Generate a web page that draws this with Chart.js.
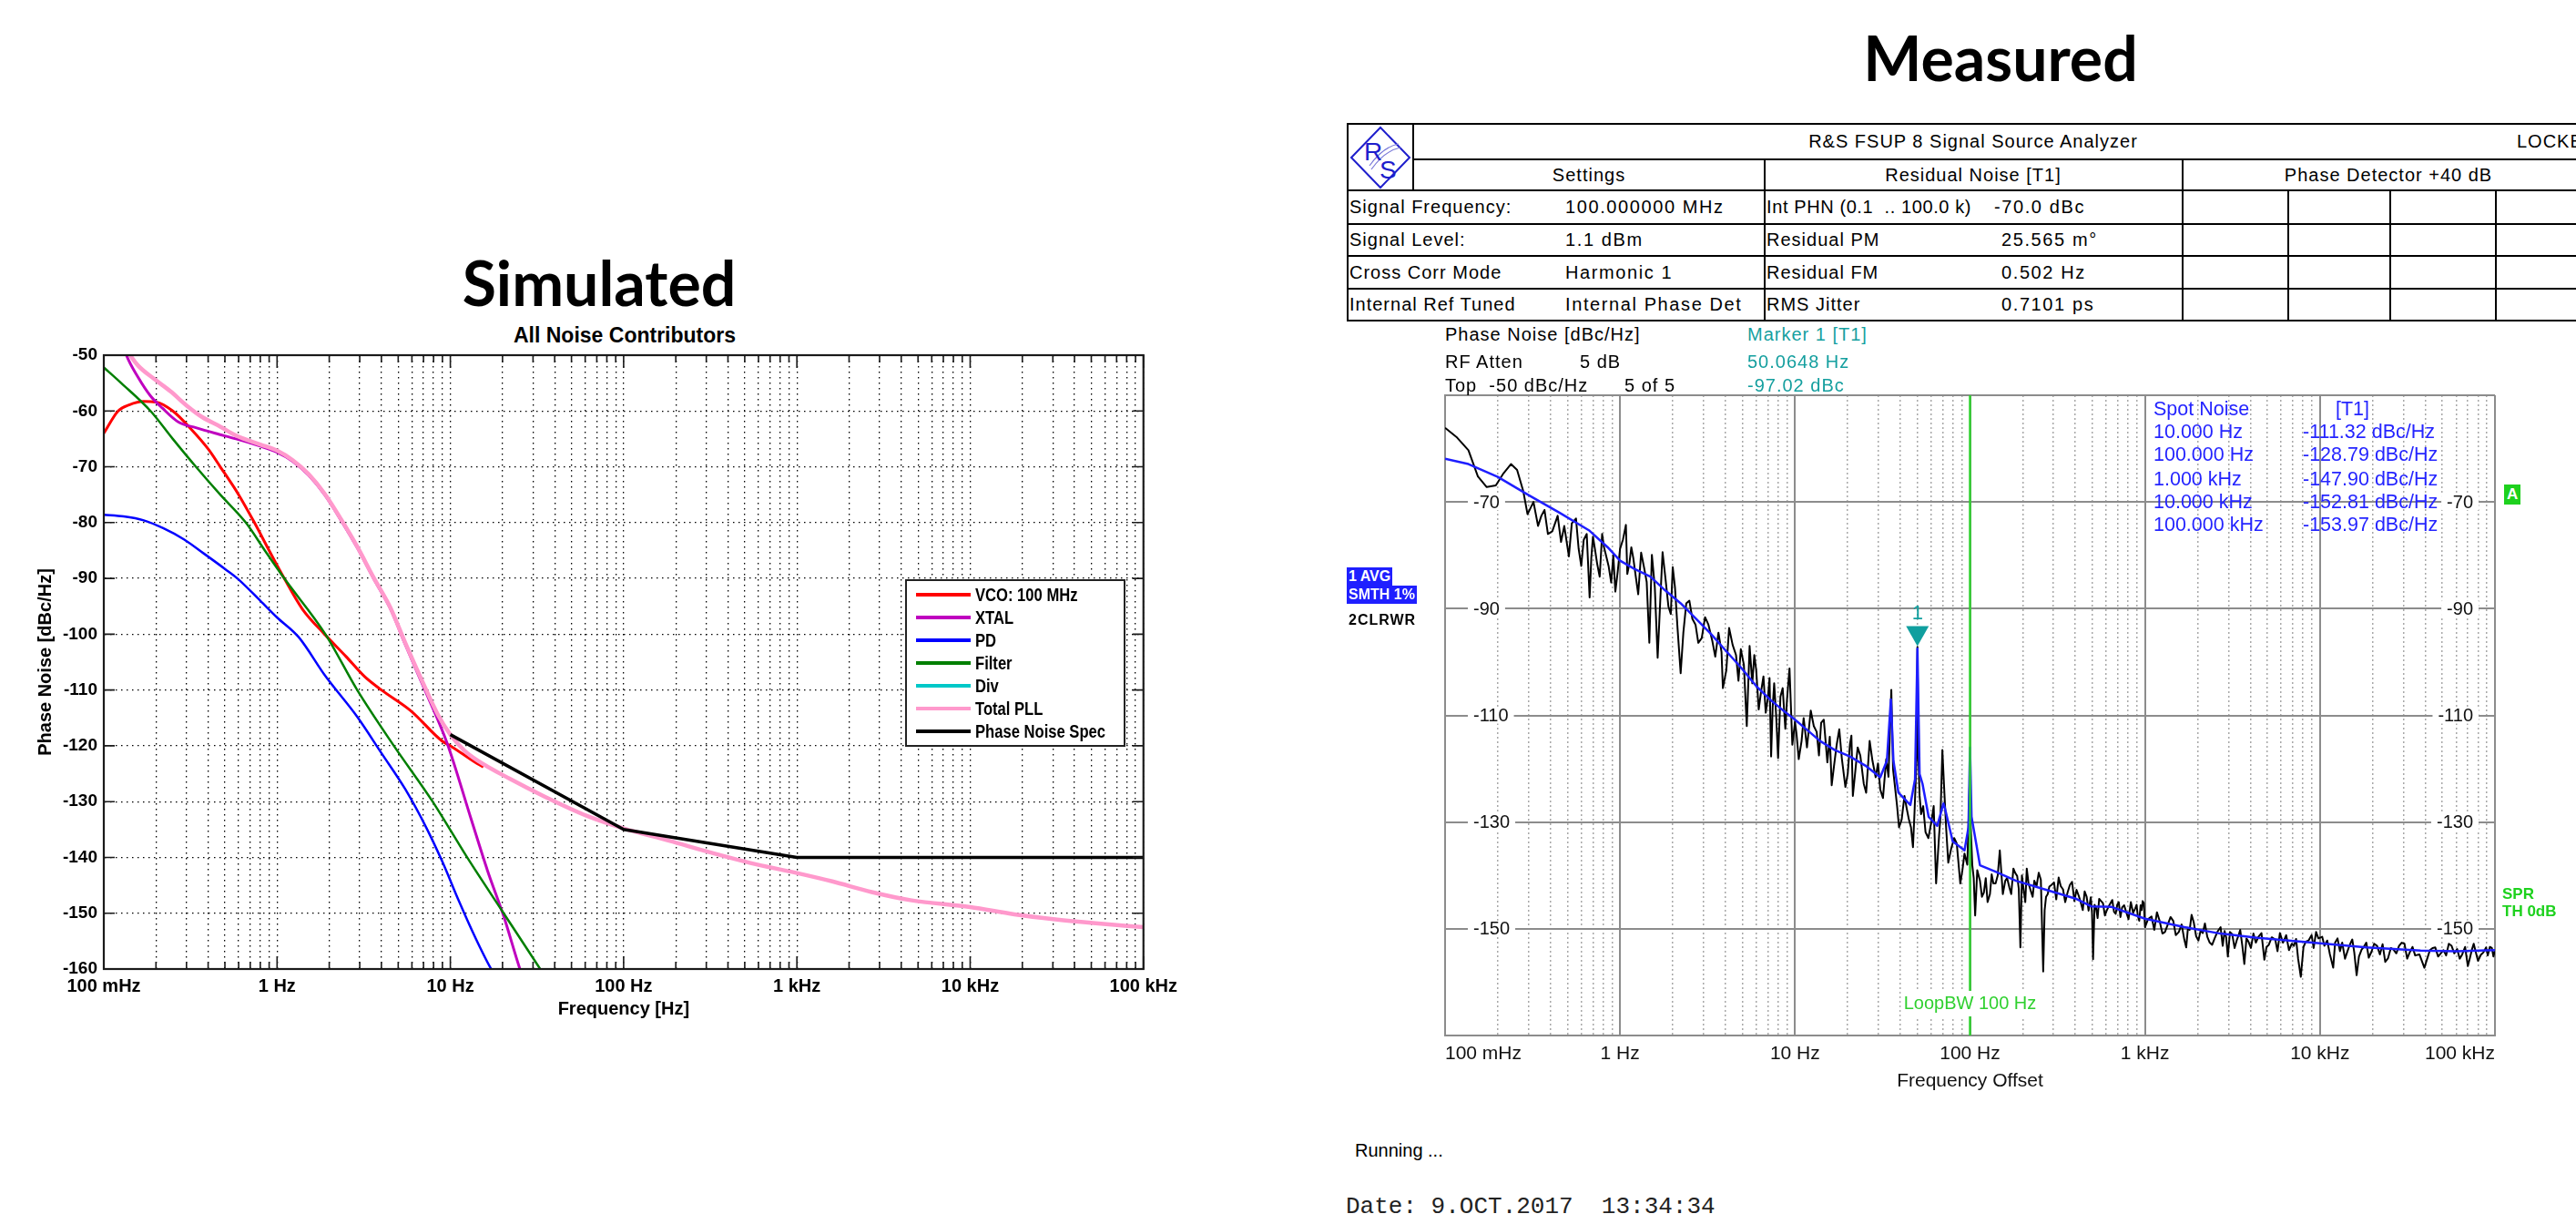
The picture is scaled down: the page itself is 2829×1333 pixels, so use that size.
<!DOCTYPE html>
<html>
<head>
<meta charset="utf-8">
<title>Phase noise: simulated vs measured</title>
<script src="https://cdn.jsdelivr.net/npm/chart.js@4.4.1/dist/chart.umd.min.js"></script>
<style>
  html, body { margin: 0; padding: 0; background: #fff; }
  body { position: relative; width: 2829px; height: 1333px; overflow: hidden;
         font-family: "Liberation Sans", Arial, sans-serif; color: #000; }
  canvas { position: absolute; }
  .t { position: absolute; white-space: pre; line-height: 24px; }
  .c { transform: translateX(-50%); }
  .big { position: absolute; font: bold 68px Lato, "Open Sans", sans-serif; line-height: 80px; transform: translateX(-50%); white-space: nowrap; }
  .h { position: absolute; height: 2px; background: #000; }
  .v { position: absolute; width: 2px; background: #000; }
  .rs { font-size: 20px; letter-spacing: 1px; }
  .num { letter-spacing: 1.6px; }
  .teal { color: #159f9f; }
  .spot { color: #2424ff; font-size: 21.5px; }
  .tag { position: absolute; background: #1f1fff; color: #fff; font: bold 16px "Liberation Sans", Arial, sans-serif; line-height: 20px; padding: 0 2px; }
  .grn { position: absolute; color: #1ed11e; font: bold 17px "Liberation Sans", Arial, sans-serif; line-height: 19px; }
</style>
</head>
<body>

<div class="big" style="left:658px; top:270px;">Simulated</div>
<div class="big" style="left:2197px; top:23px;">Measured</div>
<div class="t c" style="left:686px; top:354px; font: bold 23px 'Liberation Sans', Arial, sans-serif; line-height:28px;">All Noise Contributors</div>

<canvas id="sim" width="1300" height="800" style="left:0; top:340px;"></canvas>
<canvas id="meas" width="1369" height="830" style="left:1460px; top:400px;"></canvas>

<!-- R&S header table -->
<div class="h" style="left:1480px; top:135px; width:1360px;"></div>
<div class="h" style="left:1552px; top:174px; width:1290px;"></div>
<div class="h" style="left:1480px; top:208px; width:1360px;"></div>
<div class="h" style="left:1480px; top:245px; width:1360px;"></div>
<div class="h" style="left:1480px; top:280px; width:1360px;"></div>
<div class="h" style="left:1480px; top:316px; width:1360px;"></div>
<div class="h" style="left:1480px; top:351px; width:1360px;"></div>
<div class="v" style="left:1479px; top:135px; height:218px;"></div>
<div class="v" style="left:1551px; top:135px; height:74px;"></div>
<div class="v" style="left:1937px; top:174px; height:179px;"></div>
<div class="v" style="left:2396px; top:174px; height:179px;"></div>
<div class="v" style="left:2512px; top:208px; height:145px;"></div>
<div class="v" style="left:2624px; top:208px; height:145px;"></div>
<div class="v" style="left:2740px; top:208px; height:145px;"></div>
<svg style="position:absolute; left:1482px; top:138px;" width="68" height="70" viewBox="0 0 68 70">
  <polygon points="34,2 66,35 34,68 2,35" fill="none" stroke="#1e1ecc" stroke-width="2"/>
  <path d="M22,44 C32,30 44,22 54,20 M24,48 C34,34 46,26 56,24" fill="none" stroke="#7a7ad8" stroke-width="1.2"/>
  <text x="16" y="38" font-family="Liberation Sans, Arial" font-size="28" fill="#1e1ecc">R</text>
  <text x="33" y="58" font-family="Liberation Sans, Arial" font-size="28" fill="#1e1ecc">S</text>
</svg>
<div class="t rs c" style="left:2167px; top:143px;">R&amp;S FSUP 8 Signal Source Analyzer</div>
<div class="t rs" style="left:2764px; top:143px;">LOCKED</div>
<div class="t rs c" style="left:1745px; top:180px;">Settings</div>
<div class="t rs c" style="left:2167px; top:180px;">Residual Noise [T1]</div>
<div class="t rs c" style="left:2623px; top:180px;">Phase Detector +40 dB</div>

<div class="t rs" style="left:1482px; top:215px;">Signal Frequency:</div>
<div class="t rs num" style="left:1719px; top:215px;">100.000000 MHz</div>
<div class="t rs" style="left:1940px; top:215px; letter-spacing:0.6px;">Int PHN (0.1  .. 100.0 k)</div>
<div class="t rs num" style="left:2190px; top:215px;">-70.0 dBc</div>

<div class="t rs" style="left:1482px; top:251px;">Signal Level:</div>
<div class="t rs num" style="left:1719px; top:251px;">1.1 dBm</div>
<div class="t rs" style="left:1940px; top:251px;">Residual PM</div>
<div class="t rs num" style="left:2198px; top:251px;">25.565 m°</div>

<div class="t rs" style="left:1482px; top:287px;">Cross Corr Mode</div>
<div class="t rs num" style="left:1719px; top:287px;">Harmonic 1</div>
<div class="t rs" style="left:1940px; top:287px;">Residual FM</div>
<div class="t rs num" style="left:2198px; top:287px;">0.502 Hz</div>

<div class="t rs" style="left:1482px; top:322px;">Internal Ref Tuned</div>
<div class="t rs num" style="left:1719px; top:322px;">Internal Phase Det</div>
<div class="t rs" style="left:1940px; top:322px;">RMS Jitter</div>
<div class="t rs num" style="left:2198px; top:322px;">0.7101 ps</div>

<!-- instrument annotations -->
<div class="t rs" style="left:1587px; top:355px;">Phase Noise [dBc/Hz]</div>
<div class="t rs" style="left:1587px; top:385px;">RF Atten</div>
<div class="t rs" style="left:1735px; top:385px;">5 dB</div>
<div class="t rs" style="left:1587px; top:411px;">Top  -50 dBc/Hz</div>
<div class="t rs" style="left:1784px; top:411px;">5 of 5</div>
<div class="t rs teal" style="left:1919px; top:355px;">Marker 1 [T1]</div>
<div class="t rs teal" style="left:1919px; top:385px;">50.0648 Hz</div>
<div class="t rs teal" style="left:1919px; top:411px;">-97.02 dBc</div>

<div class="tag" style="left:1479px; top:623px;">1 AVG</div>
<div class="tag" style="left:1479px; top:643px;">SMTH 1%</div>
<div class="t" style="left:1481px; top:672px; font: bold 16px 'Liberation Sans', Arial, sans-serif; letter-spacing:1px;">2CLRWR</div>

<div id="spot"></div>

<div class="grn" style="left:2750px; top:532px; background:#1ed11e; color:#fff; padding:0 3px; line-height:22px;">A</div>
<div class="grn" style="left:2748px; top:972px;">SPR<br>TH 0dB</div>

<div class="t" style="left:1488px; top:1251px; font-size:20px;">Running ...</div>
<div class="t" style="left:1478px; top:1310px; font: 26px 'Liberation Mono', 'Courier New', monospace; line-height:30px; color:#222;">Date: 9.OCT.2017  13:34:34</div>

<script>
const BOLD = '"Liberation Sans", Arial, sans-serif';
const ARIAL = '"Liberation Sans", Arial, sans-serif';

// frequency axis, shared by both plots
const decadeTicks = [0.1, 1, 10, 100, 1000, 10000, 100000];
const decadeLabels = ['100 mHz', '1 Hz', '10 Hz', '100 Hz', '1 kHz', '10 kHz', '100 kHz'];
const minorSteps = [2, 3, 4, 5, 6, 7, 8, 9];

// --- simulated noise contributors, frequency in Hz and level in dBc/Hz
const vcoF = [0.1, 0.121, 0.14, 0.17, 0.2, 0.25, 0.32, 0.4, 0.47, 0.6, 0.74, 0.9, 1.1, 1.4, 1.88, 2.5, 3.2, 4.0, 5.9, 9, 10, 14.3, 15.5];
const vcoDb = [-64, -60, -58.9, -58.3, -58.4, -60, -63.3, -66.8, -70, -75, -80, -85, -90, -95.5, -100, -104, -107.6, -110, -113.7, -119.2, -120, -123.2, -123.8];

const xtalF = [0.12, 0.135, 0.158, 0.186, 0.218, 0.27, 0.34, 0.44, 0.58, 0.8, 1.0, 1.23, 1.52, 1.88, 2.34, 2.9, 3.6, 4.5, 5.5, 6.9, 9.6, 13.2, 16.4, 20.3, 25.2, 28];
const xtalDb = [-45, -50, -54, -57.3, -59.5, -62, -63, -64, -65, -66.3, -67.4, -69, -71.5, -75, -79.6, -84.5, -90, -95.4, -101.9, -109, -119.6, -133.2, -142.4, -150.5, -160, -164];

const pdF = [0.1, 0.13, 0.17, 0.22, 0.29, 0.38, 0.5, 0.59, 0.8, 1.0, 1.33, 1.9, 2.9, 4.0, 5.5, 7.3, 9, 11.2, 13.9, 17.2, 20];
const pdDb = [-78.6, -78.9, -79.6, -81, -83, -85.6, -88.3, -90, -94, -97, -100.5, -107.5, -114.8, -121.3, -127.8, -134.8, -140.8, -147.8, -154.3, -160, -163];

const filterF = [0.1, 0.126, 0.186, 0.25, 0.34, 0.47, 0.66, 0.85, 1.1, 1.9, 2.9, 4.72, 7.9, 10, 12.5, 20.3, 33, 40];
const filterDb = [-52.2, -55, -60, -65, -70, -75, -80, -85, -90, -100, -110, -120, -130, -135.1, -140, -150, -160, -164];

const divF = [];
const divDb = [];

const totalF = [0.13, 0.142, 0.158, 0.196, 0.243, 0.3, 0.37, 0.47, 0.58, 0.8, 1.0, 1.23, 1.52, 1.88, 2.34, 2.9, 3.6, 4.5, 5.5, 6.9, 8.5, 10, 12, 14.3, 22, 35, 62, 100, 183, 315, 540, 1000, 1600, 2700, 4600, 10000, 18000, 31000, 53000, 100000];
const totalDb = [-48, -50, -51.9, -54.3, -56.5, -59, -61.1, -62.8, -64.4, -66, -67.1, -68.8, -71.3, -74.8, -79.4, -84.3, -89.8, -95.2, -101.6, -108.5, -114.5, -118, -120.8, -122.6, -125.9, -129.1, -132.6, -134.8, -137, -139.1, -141, -142.8, -144.3, -146.2, -147.7, -148.9, -150.2, -151.1, -151.8, -152.5];

const specF = [10, 100, 1000, 100000];
const specDb = [-118, -135, -140, -140];

const simSeries = [
  { label: 'VCO: 100 MHz', color: '#ff0000', width: 3, f: vcoF, db: vcoDb },
  { label: 'XTAL', color: '#bf00bf', width: 3, f: xtalF, db: xtalDb },
  { label: 'PD', color: '#0000ff', width: 2.5, f: pdF, db: pdDb },
  { label: 'Filter', color: '#007f00', width: 2.5, f: filterF, db: filterDb },
  { label: 'Div', color: '#00c8c8', width: 2.5, f: divF, db: divDb },
  { label: 'Total PLL', color: '#ff99cc', width: 4.5, f: totalF, db: totalDb },
  { label: 'Phase Noise Spec', color: '#000000', width: 3.5, f: specF, db: specDb, straight: true }
];

// --- measured trace 2 (clear/write), Hz and dBc/Hz: first pass of readings
const measF = [0.1, 0.116, 0.136, 0.154, 0.173, 0.195, 0.216, 0.238, 0.258, 0.28, 0.296, 0.32, 0.355, 0.387, 0.44, 0.48, 0.51, 0.56, 0.58, 0.62, 0.67, 0.70, 0.74, 0.79, 0.83, 0.89, 0.94,
  1.0, 1.08, 1.13, 1.19, 1.27, 1.37, 1.47, 1.52, 1.64, 1.75, 1.89, 2.0, 2.13, 2.22, 2.39, 2.59, 2.8, 3.06, 3.36, 3.8, 3.87, 4.2, 4.6, 4.9, 5.3, 5.5, 5.85, 6.2, 6.6, 7.0, 7.3, 7.6, 8.0, 8.5, 9.3,
  10, 10.5, 10.9, 12.3, 13.3, 14.1, 15.3, 16.2, 17.9, 19.4, 20.6, 21.4, 22.8, 24.7, 26.7, 28.9, 30.7, 33.2, 35.5, 37.4, 39.3, 42.2, 44.8, 47.2, 49.5, 50.06, 50.7, 52.5, 55.7, 60.4, 64, 66.6, 69.5, 71, 75.1, 81.2, 88, 93,
  100, 103, 107, 114, 120, 126, 133, 140, 148, 159, 168, 177, 186, 194, 203, 211, 222, 233, 247, 262, 272, 284, 302, 321, 340, 361, 383, 406, 430, 452, 476, 490, 505, 525, 547, 575, 604, 650, 680, 708, 740, 780, 830, 879, 910, 944, 970,
  1000, 1090, 1170, 1258, 1350, 1450, 1560, 1677, 1760, 1846, 1960, 2080, 2200, 2344, 2500, 2705, 2850, 2975, 3150, 3356, 3500, 3695, 3900, 4165, 4450, 4810, 5100, 5550, 5900, 6410, 6900, 7300, 7770, 8300, 8960, 9500,
  10300, 11000, 11900, 12600, 13400, 14500, 15300, 16200, 17300, 18400, 19700, 21200, 22800, 24500, 26300, 28300, 30400, 32600, 35000, 39500, 42500, 45600, 49000, 52600, 56500, 60800, 65000, 70000, 74000, 77300, 83000, 89000, 93500, 98000, 100000];
const measDb = [-56.1, -57.8, -60.3, -65.2, -67.2, -66.9, -64.6, -62.9, -64, -68, -72.3, -70, -72.6, -76, -72.6, -74.5, -80.2, -73.1, -78.8, -77.1, -87.9, -76.5, -81.6, -76, -79.9, -85.1, -86.8,
  -78.8, -74.3, -81.6, -80.5, -87.3, -82.2, -96.4, -79.9, -99.2, -79.4, -89.6, -82.2, -93.6, -102.1, -89, -91.9, -96.4, -91.6, -95.9, -98.1, -104.9, -93.6, -98.7, -97.6, -112, -97, -98.7, -108.9, -102.7, -106.6, -117.7, -104, -118, -104.9, -101.2,
  -111.2, -118.2, -114.8, -109.1, -113.1, -111.4, -118.8, -123.1, -112.6, -123.4, -115.4, -125.1, -116, -122.8, -114.8, -121.6, -123.9, -118.2, -105.2, -123.9, -131, -125.1, -129.6, -134.7, -118, -97.2, -118, -128.5, -131.9, -129.6, -141.5, -132.4, -116.5, -123, -137.6, -133, -141.5, -135.9,
  -120.2, -138, -147.5, -141, -143.2, -145, -139.8, -141.5, -135.3, -141, -142.3, -138.7, -140.1, -153.5, -143, -138.7, -142.8, -141, -139.5, -158, -144, -142.1, -141.3, -140.4, -142.6, -143.2, -141.2, -142.7, -145.1, -143, -146.6, -144.1, -155.7, -146, -144.4, -145.2, -146.6, -144.6, -147.2, -145, -146, -146.8, -145, -146.2, -147.6, -145.6, -144.8,
  -149.7, -147.7, -146.9, -150.9, -149.2, -148.5, -150.6, -152, -149.8, -147.4, -151.4, -150.3, -149, -152.6, -151.8, -149.7, -150.4, -155.2, -151, -152, -150.2, -156.6, -152.4, -150.9, -151.5, -155.8, -153, -152, -150.8, -151.2, -152.8, -151.9, -159, -152.4, -151.2, -150.6,
  -151.5, -152.2, -157.3, -151.8, -152.6, -153.8, -152, -158.7, -153.9, -152.6, -154.3, -153.2, -152.9, -155.5, -153.9, -153.2, -152.8, -154.4, -155, -157.3, -154, -153.5, -154.6, -155, -153.2, -153.8, -154.8, -157, -153.8, -154.1, -154.9, -153.5, -153.4, -155.2, -154];

// second pass of readings in between, where the trace is densest
const measFb = [0.34, 0.37, 0.41, 0.46, 0.53, 0.6, 0.645, 0.685, 0.72, 0.765, 0.81, 0.86, 0.915, 0.97,
  1.04, 1.1, 1.16, 1.23, 1.32, 1.42, 1.58, 1.7, 1.82, 1.95, 2.06, 2.3, 2.49, 2.7, 2.93, 3.2, 3.5, 3.65, 4.05, 4.4, 4.75, 5.1, 5.7, 6.0, 6.4, 6.8, 7.15, 7.45, 7.8, 8.25, 8.8, 9.0, 9.65,
  10.2, 11.2, 11.7, 12.8, 13.7, 14.6, 15.8, 16.7, 17.3, 18.5, 20, 21, 22.1, 23.6, 25.5, 27.7, 29.8, 31.8, 34.2, 36.3, 38.3, 40.7, 43.5, 46, 48.2, 51.5, 54, 57.8, 62, 67.8, 73, 78, 84, 90.5, 96.5,
  101, 105, 110, 117, 123, 130, 136, 144, 154, 163, 172, 181, 190, 198, 207, 216, 228, 240, 254, 267, 278, 292, 311, 330, 350, 372, 395, 418, 441, 464, 498, 515, 536, 561, 590, 620, 665, 694, 724, 760, 805, 855, 895, 927, 957, 985,
  1040, 1130, 1210, 1300, 1400, 1500, 1620, 1720, 1800, 1900, 2020, 2140, 2270, 2420, 2600, 2780, 2910, 3060, 3250, 3430, 3600, 3800, 4030, 4300, 4630, 4950, 5300, 5720, 6150, 6650, 7100, 7500, 8050, 8600, 9200, 9800,
  10600, 11400, 12200, 13000, 13900, 14900, 15700, 16700, 17800, 19000, 20400, 22000, 23600, 25400, 27300, 29300, 31500, 33800, 37000, 41000, 44000, 47300, 50800, 54500, 58600, 62900, 67500, 72000, 75600, 80000, 86000, 91000, 96000];
const measDbb = [-74.5, -71.5, -75.5, -77.5, -74, -82, -76, -80.5, -79, -84, -78.5, -82, -80, -83,
  -77, -83.5, -78.5, -84, -79.5, -85, -86, -88, -84.5, -91, -86, -94.5, -88.5, -93, -95.5, -93, -99, -94.5, -101.5, -96.8, -103.5, -100.5, -104, -101.5, -105.5, -109.5, -103, -108.5, -110, -106.5, -112.5, -107, -115.5,
  -113.5, -110.5, -116, -112, -117.5, -110.8, -114, -119.5, -115.5, -118, -121, -113.8, -120.5, -117.5, -124.5, -118.5, -119, -125.5, -121.5, -120, -127, -129.5, -127.5, -131, -128, -125, -127, -133, -127, -129, -131, -135, -134, -139, -138,
  -131, -140.5, -139, -144, -140.5, -143.5, -141.5, -140, -143.5, -140.5, -143.5, -139.5, -142.5, -140, -145, -141.5, -144, -142, -140.8, -146.5, -143.5, -141.8, -144.5, -142, -145, -141.8, -144.8, -143.8, -146.5, -144, -147, -145.5, -148, -144.8, -147.5, -145.8, -146.8, -145.5, -147.8, -145.6, -148.2, -147, -145.5, -148.5, -146.5, -145.2,
  -148.2, -150.2, -148.4, -150.6, -147.8, -151.2, -149.2, -153.5, -150.2, -148.8, -152.2, -150.8, -151.5, -153, -150.5, -153.2, -151.6, -150.6, -153.6, -151.2, -153.2, -151.8, -153.6, -152.6, -150.8, -153.4, -151.6, -154.2, -152.6, -154, -153.2, -155.6, -153.4, -152.2, -153.6, -151.8,
  -153.2, -154.8, -152.6, -154.2, -155.6, -152.8, -154.4, -155.2, -153.4, -155.4, -152.8, -154.8, -156.2, -153.6, -154.6, -152.6, -155.6, -153.4, -154.8, -155.6, -153.6, -155.2, -154, -152.8, -154.6, -155.6, -153.4, -155.4, -152.8, -156, -154.4, -155, -153.6];

// --- measured trace 1 (average, smoothed 1 %)
const smthF = [0.1, 0.136, 0.2, 0.3, 0.45, 0.67, 0.85, 1.0, 1.2, 1.49, 1.8, 2.22, 2.7, 3.3, 4.0, 4.9, 6.0, 7.3, 8.5, 10, 11.5, 13.9, 16.9, 20.6, 25.2, 30.7, 33.5, 35.3, 36.5, 39, 45.6, 48.5, 50.06, 51.5, 53.5, 58, 65, 70.5, 72, 79.6, 93, 98, 100, 102, 114, 140, 183, 272, 406, 492, 644, 1000, 1680, 2700, 4400, 10000, 18400, 37600, 60000, 100000];
const smthDb = [-61.9, -62.9, -65.3, -68.7, -72, -75.4, -78.5, -81, -82.5, -84, -86.5, -89, -91.8, -94.7, -97.8, -101, -104.5, -107.2, -109, -110.8, -112.5, -114.8, -116.5, -117.7, -119.4, -121.6, -118.5, -107, -118.5, -124.5, -126.8, -122, -97.5, -121, -122.8, -129, -130.7, -126.5, -127.5, -133.6, -135.3, -131, -116, -129, -138.1, -139.3, -141, -142.7, -144.4, -145.8, -145.9, -148.1, -149.7, -150.9, -151.7, -152.7, -153.5, -154.1, -154.2, -154];

const measYLabels = [-70, -90, -110, -130, -150];
const measYGrid = [-170, -150, -130, -110, -90, -70, -50];
const loopBW = 100;
const markerF = 50.0648;
const markerDb = -97.02;

const spotLabels = ['10.000 Hz', '100.000 Hz', '1.000 kHz', '10.000 kHz', '100.000 kHz'];
const spotDb = [-111.32, -128.79, -147.90, -152.81, -153.97];

// ---------------------------------------------------------------------------
const minorTicks = [];
decadeTicks.slice(0, -1).forEach(function (d) {
  minorSteps.forEach(function (m) { minorTicks.push(d * m); });
});
const allTicks = decadeTicks.concat(minorTicks).sort(function (a, b) { return a - b; });

function decadeIndex(v) {
  return decadeTicks.findIndex(function (d) { return Math.abs(v - d) < d * 1e-6; });
}
function decadeLabel(v) {
  const k = decadeIndex(v);
  return k < 0 ? '' : decadeLabels[k];
}
function pts(fs, vs) {
  return fs.map(function (f, i) { return { x: f, y: vs[i] }; });
}
// both passes of the clear/write trace, in sweep order
const clrwr = pts(measF, measDb).concat(pts(measFb, measDbb)).sort(function (a, b) { return a.x - b.x; });

// spot noise table drawn over the measured plot
(function () {
  const box = document.getElementById('spot');
  let html = '<div class="t spot" style="left:2365px; top:437px;">Spot Noise</div>' +
             '<div class="t spot" style="left:2565px; top:437px;">[T1]</div>';
  const rowY = [462, 487, 514, 539, 564];
  spotLabels.forEach(function (lab, i) {
    html += '<div class="t spot" style="left:2365px; top:' + rowY[i] + 'px;">' + lab + '</div>';
    html += '<div class="t spot" style="left:2529px; top:' + rowY[i] + 'px;">' + spotDb[i].toFixed(2) + ' dBc/Hz</div>';
  });
  box.innerHTML = html;
})();

// box, inward ticks and legend of the MATLAB-style plot
const simDecor = {
  id: 'simDecor',
  afterDraw: function (chart) {
    const ctx = chart.ctx, a = chart.chartArea;
    const x = chart.scales.x, y = chart.scales.y;
    ctx.save();
    ctx.strokeStyle = '#1a1a1a';
    ctx.lineWidth = 1.6;
    x.ticks.forEach(function (t) {
      const px = x.getPixelForValue(t.value);
      const len = decadeIndex(t.value) >= 0 ? 14 : 8;
      ctx.beginPath();
      ctx.moveTo(px, a.bottom); ctx.lineTo(px, a.bottom - len);
      ctx.moveTo(px, a.top); ctx.lineTo(px, a.top + len);
      ctx.stroke();
    });
    y.ticks.forEach(function (t) {
      const py = y.getPixelForValue(t.value);
      ctx.beginPath();
      ctx.moveTo(a.left, py); ctx.lineTo(a.left + 12, py);
      ctx.moveTo(a.right, py); ctx.lineTo(a.right - 12, py);
      ctx.stroke();
    });
    ctx.lineWidth = 2.2;
    ctx.strokeRect(a.left, a.top, a.right - a.left, a.bottom - a.top);

    // legend box
    const lx = 995, ly = 297, lw = 240, lh = 182;
    ctx.fillStyle = '#fff';
    ctx.fillRect(lx, ly, lw, lh);
    ctx.lineWidth = 2;
    ctx.strokeStyle = '#222';
    ctx.strokeRect(lx, ly, lw, lh);
    ctx.font = 'bold 20px ' + BOLD;
    ctx.textBaseline = 'middle';
    ctx.textAlign = 'left';
    simSeries.forEach(function (s, i) {
      const ry = ly + 16 + i * 25;
      ctx.strokeStyle = s.color;
      ctx.lineWidth = 4;
      ctx.beginPath(); ctx.moveTo(lx + 11, ry); ctx.lineTo(lx + 71, ry); ctx.stroke();
      ctx.save();
      ctx.translate(lx + 76, ry + 1);
      ctx.scale(0.83, 1); // condensed face like the MATLAB export
      ctx.fillStyle = '#000';
      ctx.fillText(s.label, 0, 0);
      ctx.restore();
    });
    ctx.restore();
  }
};

const dotGrid = { color: '#000', lineWidth: 1.3, drawTicks: false };
const dotBorder = { display: true, color: '#222', width: 2, dash: [1.5, 4.5] };

new Chart(document.getElementById('sim'), {
  type: 'line',
  data: {
    datasets: simSeries.map(function (s, i) {
      return {
        label: s.label,
        data: pts(s.f, s.db),
        borderColor: s.color,
        borderWidth: s.width,
        pointRadius: 0,
        tension: 0,
        cubicInterpolationMode: s.straight ? 'default' : 'monotone',
        borderJoinStyle: 'round',
        order: simSeries.length - 1 - i
      };
    })
  },
  options: {
    responsive: false,
    animation: false,
    events: [],
    layout: { padding: { top: 50, right: 42, bottom: 20, left: 0 } },
    plugins: { legend: { display: false }, tooltip: { enabled: false } },
    scales: {
      x: {
        type: 'logarithmic', min: 0.1, max: 100000,
        afterBuildTicks: function (s) { s.ticks = allTicks.map(function (v) { return { value: v }; }); },
        afterFit: function (s) { s.height = 56; },
        grid: dotGrid,
        border: dotBorder,
        ticks: {
          autoSkip: false, maxRotation: 0, padding: 7, color: '#000',
          font: { family: BOLD, size: 20, weight: 'bold' },
          callback: function (v) { return decadeLabel(v); }
        },
        title: { display: true, text: 'Frequency [Hz]', color: '#000', padding: 0,
                 font: { family: BOLD, size: 20, weight: 'bold' } }
      },
      y: {
        min: -160, max: -50,
        afterFit: function (s) { s.width = 114; },
        grid: dotGrid,
        border: dotBorder,
        ticks: { stepSize: 10, padding: 7, color: '#000', font: { family: BOLD, size: 19, weight: 'bold' } },
        title: { display: true, text: 'Phase Noise [dBc/Hz]', color: '#000', padding: { top: 38, bottom: 0 },
                 font: { family: BOLD, size: 20, weight: 'bold' } }
      }
    }
  },
  plugins: [simDecor]
});

// loop bandwidth line, marker and in-plot level labels of the analyzer screen
const measDecor = {
  id: 'measDecor',
  afterDatasetsDraw: function (chart) {
    const ctx = chart.ctx, a = chart.chartArea;
    const x = chart.scales.x, y = chart.scales.y;
    ctx.save();
    const px = x.getPixelForValue(loopBW);
    ctx.strokeStyle = '#2fd02f';
    ctx.lineWidth = 2.5;
    ctx.beginPath(); ctx.moveTo(px, a.top); ctx.lineTo(px, a.bottom); ctx.stroke();
    ctx.font = '20px ' + ARIAL;
    ctx.textAlign = 'center';
    ctx.textBaseline = 'middle';
    const txt = 'LoopBW 100 Hz';
    const w = ctx.measureText(txt).width;
    const ly = a.bottom - 35;
    ctx.fillStyle = '#fff';
    ctx.fillRect(px - w / 2 - 3, ly - 14, w + 6, 28);
    ctx.fillStyle = '#2fd02f';
    ctx.fillText(txt, px, ly);

    const mx = x.getPixelForValue(markerF), my = y.getPixelForValue(markerDb);
    ctx.fillStyle = '#109f9f';
    ctx.beginPath();
    ctx.moveTo(mx, my); ctx.lineTo(mx - 12.5, my - 22); ctx.lineTo(mx + 12.5, my - 22);
    ctx.closePath(); ctx.fill();
    ctx.font = '22px ' + ARIAL;
    ctx.fillText('1', mx, my - 36);
    ctx.restore();
  },
  afterDraw: function (chart) {
    const ctx = chart.ctx, a = chart.chartArea, y = chart.scales.y;
    ctx.save();
    ctx.font = '20px ' + ARIAL;
    ctx.textBaseline = 'middle';
    measYLabels.forEach(function (v) {
      const py = y.getPixelForValue(v);
      const s = String(v);
      const w = ctx.measureText(s).width;
      ctx.fillStyle = '#fff';
      ctx.fillRect(a.left + 25, py - 9, w + 12, 18);
      ctx.fillRect(a.right - 30 - w, py - 9, w + 12, 18);
      ctx.fillStyle = '#111';
      ctx.textAlign = 'left';
      ctx.fillText(s, a.left + 31, py + 1);
      ctx.textAlign = 'right';
      ctx.fillText(s, a.right - 24, py + 1);
    });
    ctx.restore();
  }
};

const solidGrey = '#8c8c8c';

new Chart(document.getElementById('meas'), {
  type: 'line',
  data: {
    datasets: [
      { label: '1 AVG SMTH 1%', data: pts(smthF, smthDb), borderColor: '#1e1eff', borderWidth: 2.5,
        pointRadius: 0, tension: 0, borderJoinStyle: 'round', order: 0 },
      { label: '2 CLRWR', data: clrwr, borderColor: '#000', borderWidth: 2,
        pointRadius: 0, tension: 0, borderJoinStyle: 'round', order: 1 }
    ]
  },
  options: {
    responsive: false,
    animation: false,
    events: [],
    layout: { padding: { top: 34, right: 89, bottom: 30, left: 127 } },
    plugins: { legend: { display: false }, tooltip: { enabled: false } },
    scales: {
      xMinor: {
        type: 'logarithmic', position: 'bottom', min: 0.1, max: 100000,
        afterBuildTicks: function (s) { s.ticks = minorTicks.map(function (v) { return { value: v }; }); },
        afterFit: function (s) { s.height = 0; },
        grid: { color: '#a8a8a8', lineWidth: 1.5, drawTicks: false },
        border: { display: false, dash: [2, 3] },
        ticks: { display: false }
      },
      x: {
        type: 'logarithmic', position: 'bottom', min: 0.1, max: 100000,
        afterBuildTicks: function (s) { s.ticks = decadeTicks.map(function (v) { return { value: v }; }); },
        afterFit: function (s) { s.height = 63; },
        grid: { color: solidGrey, lineWidth: 2, drawTicks: false },
        border: { display: true, color: solidGrey, width: 2 },
        ticks: {
          autoSkip: false, maxRotation: 0, align: 'inner', padding: 8, color: '#111',
          font: { family: ARIAL, size: 21 },
          callback: function (v) { return decadeLabel(v); }
        },
        title: { display: true, text: 'Frequency Offset', color: '#111', padding: 0,
                 font: { family: ARIAL, size: 21 } }
      },
      y: {
        min: -170, max: -50,
        afterBuildTicks: function (s) { s.ticks = measYGrid.map(function (v) { return { value: v }; }); },
        afterFit: function (s) { s.width = 0; },
        grid: { color: solidGrey, lineWidth: 2, drawTicks: false },
        border: { display: true, color: solidGrey, width: 2 },
        ticks: { display: false }
      }
    }
  },
  plugins: [measDecor]
});
</script>
</body>
</html>
